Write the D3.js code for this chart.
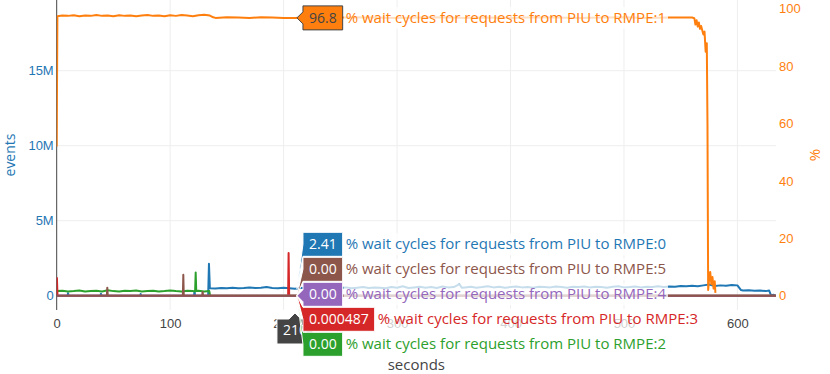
<!DOCTYPE html>
<html>
<head>
<meta charset="utf-8">
<script src="https://cdn.jsdelivr.net/npm/d3@7"></script>
<style>
  html, body { margin: 0; padding: 0; background: #fff; }
  svg { display: block; font-family: "Open Sans", verdana, arial, sans-serif; }
</style>
</head>
<body>
<svg id="chart" width="830" height="374"></svg>
<script>
// series: [seconds, % wait cycles]
const rmpe0 = [
  [0, 0], [9.5, 0], [10, 0.9], [10.5, 0], [38.5, 0], [39, 0.7], [39.5, 0], [73.5, 0], [74, 0.6], [74.5, 0],
  [121, 0], [121.5, 1.5], [122, 0], [133.5, 0], [134.2, 11.1], [135, 2.6], [140, 2.5], [145, 2.7], [150, 2.6],
  [155, 2.8], [160, 2.6], [165, 2.7], [170, 2.9], [175, 2.7], [180, 2.8], [185, 3.0], [190, 2.7], [195, 2.6],
  [200, 2.8], [205, 2.6], [210, 2.41], [215, 2.7], [220, 2.8], [225, 2.6], [230, 2.9], [235, 2.7], [240, 2.8],
  [245, 3.1], [250, 2.7], [255, 2.9], [260, 2.6], [265, 2.8], [270, 3.0], [275, 2.7], [280, 2.9], [285, 2.8],
  [290, 2.6], [295, 3.0], [300, 2.8], [305, 3.3], [310, 2.7], [315, 2.9], [320, 3.1], [325, 2.8], [330, 3.0],
  [335, 2.7], [340, 3.2], [345, 2.9], [350, 3.0], [355, 4.0], [357, 2.8], [360, 2.9], [365, 3.1], [370, 2.8],
  [375, 3.0], [380, 3.3], [385, 2.9], [390, 3.1], [395, 2.8], [400, 3.0], [405, 3.2], [410, 2.9], [415, 3.0],
  [420, 2.8], [425, 3.1], [430, 3.0], [435, 2.9], [440, 3.2], [445, 3.0], [450, 2.8], [455, 3.1], [460, 3.0],
  [465, 3.2], [470, 2.9], [475, 3.1], [480, 3.0], [485, 2.8], [490, 3.1], [495, 3.3], [500, 2.9], [505, 3.0],
  [510, 3.2], [515, 2.9], [520, 3.1], [525, 3.0], [530, 3.3], [535, 3.0], [540, 3.2], [545, 3.1], [550, 3.4],
  [555, 3.3], [560, 3.5], [565, 3.3], [570, 3.6], [575, 3.9], [580, 3.4], [585, 3.6], [590, 3.5], [595, 3.7],
  [600, 3.6], [603, 2.0], [605, 1.8], [610, 1.9], [615, 1.7], [620, 1.8], [625, 1.6], [628, 1.8], [629.5, 0.2],
  [632, 0.3], [634, 0]
];
const rmpe1 = [
  [0, 52], [0.6, 97.4], [5, 97.6], [10, 97.5], [15, 97.7], [20, 97.4], [25, 97.6], [30, 97.5], [35, 97.8],
  [40, 97.5], [45, 97.6], [50, 97.4], [55, 97.7], [60, 97.5], [65, 97.6], [70, 97.4], [75, 97.6], [80, 97.8],
  [85, 97.5], [90, 97.6], [95, 97.4], [100, 97.7], [105, 97.5], [110, 97.8], [115, 97.6], [120, 97.4],
  [125, 97.7], [130, 97.9], [135, 97.6], [138, 97.0], [140, 96.8], [150, 97.0], [160, 96.9], [170, 96.8],
  [180, 97.0], [190, 96.9], [200, 96.8], [210, 96.8], [220, 96.9], [240, 96.8], [260, 97.0], [280, 96.9],
  [300, 96.8], [320, 96.9], [340, 97.0], [360, 96.8], [380, 96.9], [400, 96.8], [420, 97.0], [440, 96.9],
  [460, 96.8], [480, 96.9], [500, 97.0], [520, 96.8], [540, 96.9], [560, 96.9], [562, 96.7], [563, 94.5],
  [564, 96.0], [565, 93.8], [566, 95.2], [567, 93.0], [568, 94.0], [569, 92.5], [570, 91.0], [571, 92.0],
  [572, 85.0], [573, 88.0], [573.6, 60], [574.2, 2.0], [575, 5.5], [576, 8.3], [577, 4.0], [578, 6.5],
  [579, 2.5], [580, 5.0], [580.6, 1.0]
];
const rmpe2 = [
  [0, 1.6], [5, 1.7], [10, 1.5], [15, 1.6], [20, 1.8], [25, 1.5], [30, 1.6], [35, 1.7], [40, 1.5], [45, 1.9],
  [50, 1.6], [55, 1.5], [60, 1.7], [65, 1.6], [70, 1.8], [75, 1.5], [80, 1.6], [85, 1.7], [90, 1.5], [95, 1.6],
  [100, 1.8], [105, 1.6], [110, 1.5], [115, 1.7], [120, 1.6], [122, 1.5], [122.5, 8.1], [123, 1.6], [125, 1.7],
  [130, 1.5], [134.5, 1.6], [135.2, 0], [210, 0], [634, 0]
];
const rmpe3 = [
  [0, 0], [0.2, 6.2], [0.7, 0], [204, 0], [204.4, 14.9], [204.9, 0], [210, 0.000487], [215, 0], [634, 0]
];
const rmpe4 = [[0, 0], [210, 0], [634, 0]];
const rmpe5 = [
  [0, 0], [44.2, 0], [44.6, 2.8], [45, 0], [111.2, 0], [111.6, 7.3], [112, 0], [128.2, 0], [128.6, 1.3],
  [129, 0], [210, 0], [634, 0]
];

const seriesNames = [
  '% wait cycles for requests from PIU to RMPE:0',
  '% wait cycles for requests from PIU to RMPE:1',
  '% wait cycles for requests from PIU to RMPE:2',
  '% wait cycles for requests from PIU to RMPE:3',
  '% wait cycles for requests from PIU to RMPE:4',
  '% wait cycles for requests from PIU to RMPE:5'
];
const seriesValues = [rmpe0, rmpe1, rmpe2, rmpe3, rmpe4, rmpe5];
const seriesColors = ['#1f77b4', '#ff7f0e', '#2ca02c', '#d62728', '#9467bd', '#8c564b'];

const xTicks = [0, 100, 200, 300, 400, 500, 600];
const eventTicks = [0, 5e6, 10e6, 15e6];
const eventTickLabels = ['0', '5M', '10M', '15M'];
const pctTicks = [0, 20, 40, 60, 80, 100];
const hoverTime = 210;

const PLOT = { left: 56.7, right: 776, top: 0, bottom: 310 };

const svg = d3.select('#chart');

const x = d3.scaleLinear().domain([0, 634]).range([PLOT.left, PLOT.right]);
const yEvents = d3.scaleLinear().domain([-0.953e6, 19.713e6]).range([PLOT.bottom, PLOT.top]);
const yPct = d3.scaleLinear().domain([-4.98, 103.03]).range([PLOT.bottom, PLOT.top]);

// grid
const gridG = svg.append('g').attr('class', 'grid');
gridG.selectAll('line.vx')
  .data(xTicks.filter((d) => d !== 0))
  .join('line')
  .attr('x1', (d) => x(d)).attr('x2', (d) => x(d))
  .attr('y1', PLOT.top).attr('y2', PLOT.bottom)
  .attr('stroke', '#eee').attr('stroke-width', 1);
gridG.selectAll('line.hy')
  .data(eventTicks.filter((d) => d !== 0))
  .join('line')
  .attr('x1', PLOT.left).attr('x2', PLOT.right)
  .attr('y1', (d) => yEvents(d)).attr('y2', (d) => yEvents(d))
  .attr('stroke', '#eee').attr('stroke-width', 1);

// zero lines
svg.append('line')
  .attr('x1', x(0)).attr('x2', x(0))
  .attr('y1', PLOT.top).attr('y2', PLOT.bottom)
  .attr('stroke', '#444').attr('stroke-width', 1);
svg.append('line')
  .attr('x1', PLOT.left).attr('x2', PLOT.right)
  .attr('y1', yEvents(0)).attr('y2', yEvents(0))
  .attr('stroke', '#444').attr('stroke-width', 1);

// axes
const xAxisG = svg.append('g')
  .attr('transform', `translate(0,${PLOT.bottom})`)
  .call(d3.axisBottom(x).tickValues(xTicks).tickSize(0).tickPadding(9).tickFormat(d3.format('d')));
const leftAxisG = svg.append('g')
  .attr('transform', `translate(${PLOT.left},0)`)
  .call(d3.axisLeft(yEvents).tickValues(eventTicks).tickSize(0).tickPadding(3)
    .tickFormat((d, i) => eventTickLabels[i]));
const rightAxisG = svg.append('g')
  .attr('transform', `translate(${PLOT.right},0)`)
  .call(d3.axisRight(yPct).tickValues(pctTicks).tickSize(0).tickPadding(3).tickFormat(d3.format('d')));

[xAxisG, leftAxisG, rightAxisG].forEach((a) => a.select('.domain').remove());
xAxisG.selectAll('text').attr('fill', '#444').style('font-size', '13px').attr('font-family', null);
leftAxisG.selectAll('text').attr('fill', '#1f77b4').style('font-size', '13px').attr('font-family', null);
rightAxisG.selectAll('text').attr('fill', '#ff7f0e').style('font-size', '13px').attr('font-family', null);

// axis titles
svg.append('text')
  .attr('transform', `translate(15,${(PLOT.top + PLOT.bottom) / 2}) rotate(-90)`)
  .attr('text-anchor', 'middle')
  .attr('fill', '#1f77b4')
  .style('font-size', '14px')
  .text('events');
svg.append('text')
  .attr('transform', `translate(820,${(PLOT.top + PLOT.bottom) / 2}) rotate(-90)`)
  .attr('text-anchor', 'middle')
  .attr('fill', '#ff7f0e')
  .style('font-size', '15px')
  .text('%');
svg.append('text')
  .attr('x', (PLOT.left + PLOT.right) / 2)
  .attr('y', 370)
  .attr('text-anchor', 'middle')
  .attr('fill', '#444')
  .style('font-size', '15px')
  .text('seconds');

// lines
svg.append('clipPath').attr('id', 'plotClip')
  .append('rect')
  .attr('x', PLOT.left).attr('y', PLOT.top)
  .attr('width', PLOT.right - PLOT.left).attr('height', PLOT.bottom - PLOT.top);

const line = d3.line()
  .x((d) => x(d[0]))
  .y((d) => yPct(d[1]));

svg.append('g')
  .attr('clip-path', 'url(#plotClip)')
  .selectAll('path')
  .data(seriesValues)
  .join('path')
  .attr('fill', 'none')
  .attr('stroke', (d, i) => seriesColors[i])
  .attr('stroke-width', 2)
  .attr('stroke-linejoin', 'round')
  .attr('d', line);

// hover labels at hoverTime
const hx = x(hoverTime);
const fmt = d3.format('.3r');

// x hover label
const xLab = svg.append('g').attr('transform', `translate(${hx},${PLOT.bottom + 3})`);
const xLabText = xLab.append('text')
  .attr('text-anchor', 'middle')
  .attr('y', 22)
  .attr('fill', '#fff')
  .style('font-size', '14px')
  .text(String(hoverTime));
const xw = xLabText.node().getComputedTextLength() / 2 + 6;
xLab.insert('path', 'text')
  .attr('d', `M0,0L6,6H${xw}v25H${-xw}V6H-6Z`)
  .attr('fill', '#444')
  .attr('stroke', '#fff')
  .attr('stroke-width', 1);

const hoverItems = seriesValues.map((s, i) => {
  const pt = s.find((d) => d[0] === hoverTime);
  return { i, value: pt[1], y0: yPct(pt[1]) };
});

// spread overlapping labels around their mean
const LABEL_H = 25;
const sorted = hoverItems.slice().sort((a, b) => (Math.round(a.y0) - Math.round(b.y0)) || (b.i - a.i));
let groups = sorted.map((d) => ({ items: [d], center: d.y0 }));
let moved = true;
while (moved) {
  moved = false;
  for (let k = 0; k < groups.length - 1; k++) {
    const a = groups[k];
    const b = groups[k + 1];
    const aBottom = a.center + (a.items.length * LABEL_H) / 2;
    const bTop = b.center - (b.items.length * LABEL_H) / 2;
    if (aBottom > bTop) {
      const items = a.items.concat(b.items);
      groups.splice(k, 2, { items, center: d3.mean(items, (d) => d.y0) });
      moved = true;
      break;
    }
  }
}
groups.forEach((g) => {
  g.items.forEach((d, j) => {
    d.y = g.center - (g.items.length * LABEL_H) / 2 + LABEL_H * (j + 0.5);
  });
});

const tipX = hx + 2;
hoverItems.forEach((d) => {
  const color = seriesColors[d.i];
  const light = d.i === 1;
  const g = svg.append('g').attr('transform', `translate(${tipX},${d.y0})`);
  const off = d.y - d.y0;
  const nameBg = g.append('rect');
  const valText = g.append('text')
    .attr('x', 6 + 6)
    .attr('y', off + 5)
    .attr('fill', light ? '#444' : '#fff')
    .style('font-size', '14px')
    .text(fmt(d.value));
  const vw = valText.node().getComputedTextLength() + 12;
  const h = 24;
  const arrowY = Math.max(-h / 2 + 6, Math.min(h / 2 - 6, -off));
  g.insert('path', 'text')
    .attr('d', `M0,0L6,${off + arrowY + 6}V${off + h / 2}H${6 + vw}V${off - h / 2}H6V${off + arrowY - 6}Z`)
    .attr('fill', color)
    .attr('stroke', light ? '#444' : '#fff')
    .attr('stroke-width', 1);
  const nameText = g.append('text')
    .attr('x', 6 + vw + 3)
    .attr('y', off + 5)
    .attr('fill', color)
    .style('font-size', '15px')
    .text(seriesNames[d.i]);
  const nw = nameText.node().getComputedTextLength();
  nameBg
    .attr('x', 6 + vw + 1)
    .attr('y', off - h / 2 + 1)
    .attr('width', nw + 4)
    .attr('height', h - 2)
    .attr('fill', '#fff')
    .attr('opacity', 0.75);
});
</script>
</body>
</html>
